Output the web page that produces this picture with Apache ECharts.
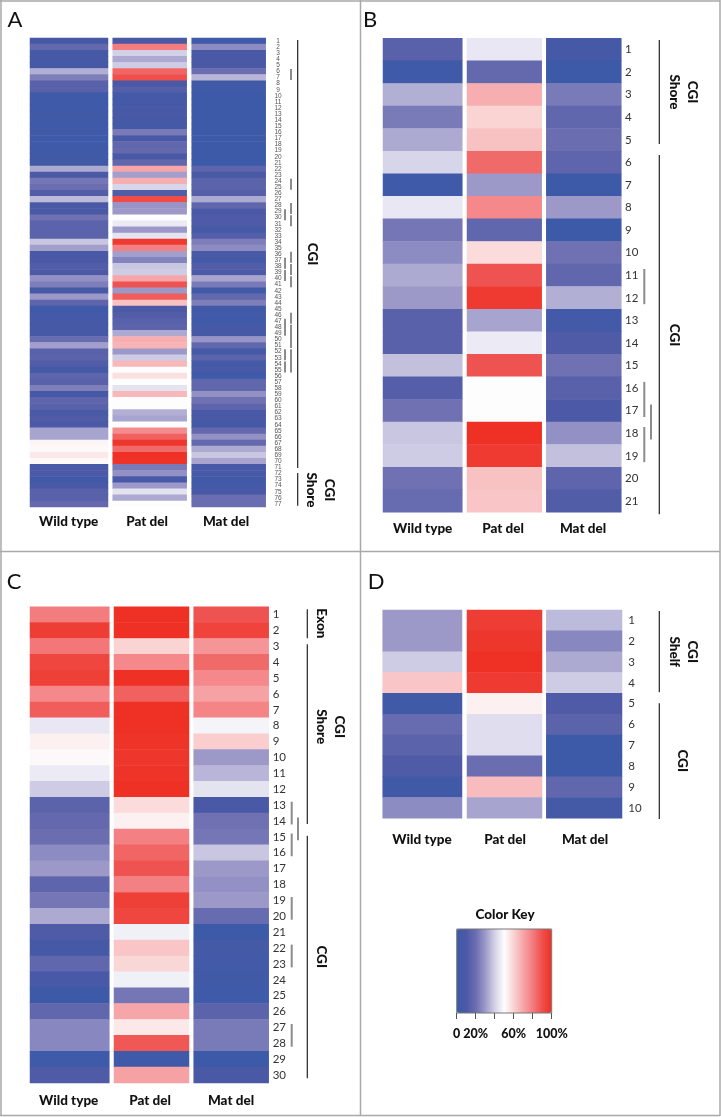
<!DOCTYPE html>
<html><head><meta charset="utf-8">
<style>html,body{margin:0;padding:0;background:#fff}#c{width:721px;height:1117px}</style>
<script src="https://cdn.jsdelivr.net/npm/echarts@6/dist/echarts.min.js"></script>
</head><body><div id="c"></div>
<script>
const columnNames = ['Wild type','Pat del','Mat del'];
const keyLabels = ['0','20%','','60%','','100%'];
const keyColors = ['#3B5AA8','#4C59A6','#6A6DB0','#9C99C9','#D3D1E7','#FDFDFE','#FAD3D3','#F6A5A8','#F37C7E','#EF4F4C','#EE3124'];

const aWild = [6,18,6,6,6,34,24,14,14,2,2,2,3,3,2,3,2,2,3,3,3,33,10,22,20,12,36,8,8,21,15,15,15,38,31,8,8,12,10,28,24,6,30,16,2,4,6,6,6,19,31,14,15,12,5,16,14,24,6,16,14,8,11,10,32,32,52,51,55,51,7,10,3,8,14,14,18];
const aPat = [8,80,40,33,39,85,90,8,13,4,6,7,9,6,5,23,9,17,18,9,17,70,31,68,41,12,91,29,30,50,46,30,44,97,79,31,25,38,39,70,89,30,87,64,10,12,14,15,33,68,67,30,39,66,50,57,50,44,66,50,50,34,32,50,76,86,98,84,100,99,23,28,7,30,44,33,50];
const aMat = [2,27,8,8,8,20,35,3,3,1,1,1,1,1,1,1,1,1,1,1,1,16,8,15,15,13,33,17,8,11,11,5,13,24,27,8,4,12,10,32,23,3,18,24,3,4,2,6,6,29,17,4,15,5,7,2,17,17,28,21,16,8,9,6,18,28,18,33,38,32,7,7,3,5,7,20,20];

const bWild = [14,2,34,23,33,41,2,45,22,27,33,30,14,14,37,13,21,38,39,21,19];
const bPat = [45,18,68,60,64,84,30,77,17,58,89,97,32,46,89,50,50,100,97,64,63];
const bMat = [6,1,23,17,20,16,1,30,1,21,17,34,4,11,21,14,10,28,37,16,12];

const cWild = [80,96,81,93,95,77,87,45,53,51,46,39,15,18,20,27,30,16,22,33,11,6,17,7,1,17,26,26,2,11];
const cPat = [100,100,60,77,100,86,100,100,99,98,99,100,58,53,79,85,89,79,95,93,47,63,59,47,22,70,55,88,2,71];
const cMat = [89,94,74,84,77,71,78,48,61,30,35,44,8,21,22,38,30,28,30,19,1,5,4,3,2,15,23,23,1,9];

const dWild = [30,30,39,63,3,19,15,11,3,27];
const dPat = [96,98,100,97,53,43,43,20,65,32];
const dMat = [36,26,33,39,11,15,1,1,17,5];

/* annotation row ranges */
const aGrayBars = [[6,7,0],[24,25,0],[28,29,0],[29,30,1],[30,31,0],[36,37,0],[37,38,1],[38,39,0],[39,40,1],[40,41,0],[46,47,0],[47,49,1],[48,51,0],[52,53,1],[52,55,0],[54,55,1]];
const bGrayBars = [[11,12,0],[16,17,0],[17,18,1],[18,19,0]];
const cGrayBars = [[13,14,0],[14,15,1],[15,16,0],[19,20,0],[22,23,0],[27,28,0]];

/* layout */
const panels = [
 {letter:'A',lx:15,ly:20,top:38,h:469,cols:[[30,78],[112.7,74],[191.7,74]],data:[aWild,aPat,aMat],
  small:true,labelX:278,nameY:522,nameX:[68.7,147,226],gray:aGrayBars,grayX:[291,285],inset:0.6,
  lines:[[297.7,40,468],[297.7,473,505.7]],
  texts:[['CGI',312,254],['CGI\nShore',320.5,490]]},
 {letter:'B',lx:370,ly:20,top:38.3,h:474,cols:[[383,79.3],[467,74.7],[546.3,75]],data:[bWild,bPat,bMat],
  labelX:625,nameY:528.3,nameX:[422.7,503,583],gray:bGrayBars,grayX:[644.3,651],inset:5,
  lines:[[659.3,40,144],[659.3,155,514.3]],
  texts:[['CGI\nShore',683.3,92],['CGI',674,335]]},
 {letter:'C',lx:14,ly:582,top:606.7,h:476.3,cols:[[30,79.3],[114,75],[193.7,75]],data:[cWild,cPat,cMat],
  labelX:272.7,nameY:1100.7,nameX:[68.7,150,231],gray:cGrayBars,grayX:[291.7,298],inset:4.5,
  lines:[[307.3,609.3,638.3],[307.3,644.3,824],[307.3,835.7,1078.3]],
  texts:[['Exon',321.7,623.3],['CGI\nShore',330,726.7],['CGI',321.7,956.7]]},
 {letter:'D',lx:376,ly:582,top:610,h:208.3,cols:[[382.7,79.3],[467,75],[546.3,75.7]],data:[dWild,dPat,dMat],
  labelX:628.3,nameY:840,nameX:[422,505,585],gray:[],grayX:[0,0],inset:0,
  lines:[[659.3,611,692.3],[659.3,703.3,819]],
  texts:[['CGI\nShelf',683.5,651.7],['CGI',682.7,760.7]]}
];
const key = {x:456.7,y:929,w:95,h:84};
const FONT = 'Lato, "Open Sans", sans-serif';
const INK = '#111';

const grid=[],xAxis=[],yAxis=[],series=[],graphic=[];
panels.forEach(p=>{
  const n=p.data[0].length, rows=Array.from({length:n},(_,i)=>String(i+1)), rowH=p.h/n;
  p.cols.forEach((c,ci)=>{
    const idx=grid.length;
    grid.push({left:c[0],top:p.top,width:c[1],height:p.h,containLabel:false});
    xAxis.push({type:'category',gridIndex:idx,data:[columnNames[ci]],axisLine:{show:false},axisTick:{show:false},splitLine:{show:false},axisLabel:{show:false}});
    const last=ci===2;
    yAxis.push({type:'category',gridIndex:idx,inverse:true,data:rows,position:'right',axisLine:{show:false},axisTick:{show:false},splitLine:{show:false},
      axisLabel:{show:last,interval:0,margin:p.labelX-c[0]-c[1],
        align:p.small?'center':'left',verticalAlign:'middle',
        fontSize:p.small?6.5:11.5,color:p.small?'#555':'#333',
        fontFamily:p.small?'"Liberation Sans",sans-serif':FONT}});
    series.push({type:'heatmap',xAxisIndex:idx,yAxisIndex:idx,silent:true,
      data:p.data[ci].map((v,i)=>[0,i,v]),itemStyle:{borderWidth:0},emphasis:{disabled:true}});
    graphic.push({type:'text',silent:true,x:p.nameX[ci],y:p.nameY,style:{text:columnNames[ci],align:'center',verticalAlign:'middle',font:'900 13.5px '+FONT,fill:INK}});
  });
  graphic.push({type:'text',silent:true,x:p.lx,y:p.ly,style:{text:p.letter,align:'center',verticalAlign:'middle',font:'22px '+FONT,fill:'#111'}});
  p.lines.forEach(l=>graphic.push({type:'line',silent:true,shape:{x1:l[0],y1:l[1],x2:l[0],y2:l[2]},style:{stroke:'#222',lineWidth:1.2}}));
  p.texts.forEach(t=>graphic.push({type:'text',silent:true,x:t[1],y:t[2],rotation:-Math.PI/2,style:{text:t[0],align:'center',verticalAlign:'middle',lineHeight:18,font:'900 13.5px '+FONT,fill:INK}}));
  p.gray.forEach(b=>{
    const x=p.grayX[b[2]],y1=p.top+(b[0]-1)*rowH+p.inset,y2=p.top+b[1]*rowH-p.inset;
    graphic.push({type:'line',silent:true,shape:{x1:x,y1:y1,x2:x,y2:y2},style:{stroke:'#8c8c8c',lineWidth:2}});
  });
});

/* colour key axis */
const keyIdx=grid.length;
grid.push({left:key.x,top:key.y,width:key.w,height:key.h});
xAxis.push({type:'value',gridIndex:keyIdx,min:0,max:100,interval:20,position:'bottom',
  axisLine:{show:false},splitLine:{show:false},
  axisTick:{show:true,length:6,lineStyle:{color:'#555',width:1}},
  axisLabel:{show:true,margin:14,fontSize:12.5,fontWeight:900,fontFamily:FONT,color:INK,hideOverlap:false,
    formatter:(v)=>keyLabels[Math.round(v/20)]}});
yAxis.push({type:'value',gridIndex:keyIdx,min:0,max:1,show:false});
graphic.push({type:'text',silent:true,x:505,y:915,style:{text:'Color Key',align:'center',verticalAlign:'middle',font:'900 13.5px '+FONT,fill:INK}});
graphic.push({type:'rect',silent:true,z:50,shape:{x:key.x,y:key.y,width:key.w,height:key.h},style:{fill:'none',stroke:'#777',lineWidth:1}});

/* panel frame */
[[1,0,1,1116],[720,0,720,1116],[0,1,720,1],[0,1115.5,720,1115.5],[360.5,0,360.5,1116],[0,551.5,720,551.5]].forEach(l=>
  graphic.push({type:'line',silent:true,shape:{x1:l[0],y1:l[1],x2:l[2],y2:l[3]},style:{stroke:'#a9a9a9',lineWidth:1.5}}));

const chart=echarts.init(document.getElementById('c'),null,{renderer:'canvas'});
chart.setOption({
  animation:false,backgroundColor:'#fff',
  grid,xAxis,yAxis,series,graphic,
  visualMap:{type:'continuous',min:0,max:100,orient:'horizontal',left:key.x,top:key.y,
    itemWidth:key.h,itemHeight:key.w,padding:0,calculable:false,realtime:false,hoverLink:false,text:null,showLabel:false,
    textStyle:{fontSize:0},
    seriesIndex:series.map((_,i)=>i),inRange:{color:keyColors}}
});
</script></body></html>
